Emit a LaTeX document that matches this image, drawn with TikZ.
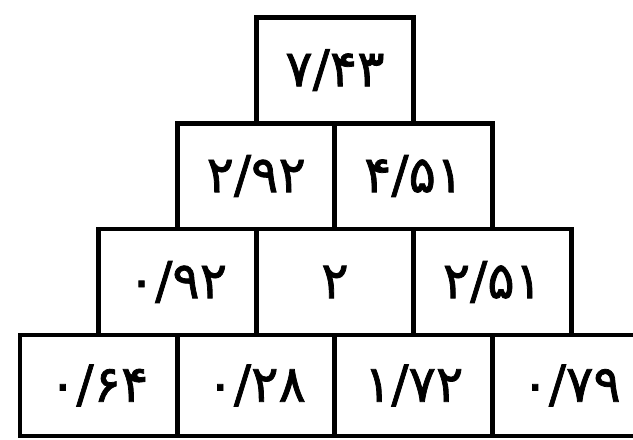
\documentclass[tikz,border=0pt]{standalone}
\usepackage{fontspec}
\newfontfamily\fafont[Script=Arabic,FakeBold=1.5]{DejaVu Sans}
\usetikzlibrary{positioning}

\begin{document}
\begin{tikzpicture}[
    x=0.02cm, y=0.02cm,
    node distance=0pt,
    cell/.style={rectangle, draw=black, line width=2.8pt, outer sep=0pt, inner sep=0pt, minimum width=3.15cm, minimum height=2.12cm, text centered, font=\fafont\fontsize{29}{32}\selectfont},
    base/.style={cell, minimum height=2.02cm},
]
\useasboundingbox (0,0) rectangle (633,440);

% bottom row
\node[base] (d1) at (98.75,54.5) {۰/۶۴};
\node[base, right=of d1] (d2) {۰/۲۸};
\node[base, right=of d2] (d3) {۱/۷۲};
\node[base, right=of d3] (d4) {۰/۷۹};

% third row
\node[cell, above=of d1.north east] (c1) {۰/۹۲};
\node[cell, right=of c1] (c2) {۲};
\node[cell, right=of c2] (c3) {۲/۵۱};

% second row
\node[cell, above=of c1.north east] (b1) {۲/۹۲};
\node[cell, right=of b1] (b2) {۴/۵۱};

% top
\node[cell, above=of b1.north east] (a1) {۷/۴۳};

\end{tikzpicture}
\end{document}
